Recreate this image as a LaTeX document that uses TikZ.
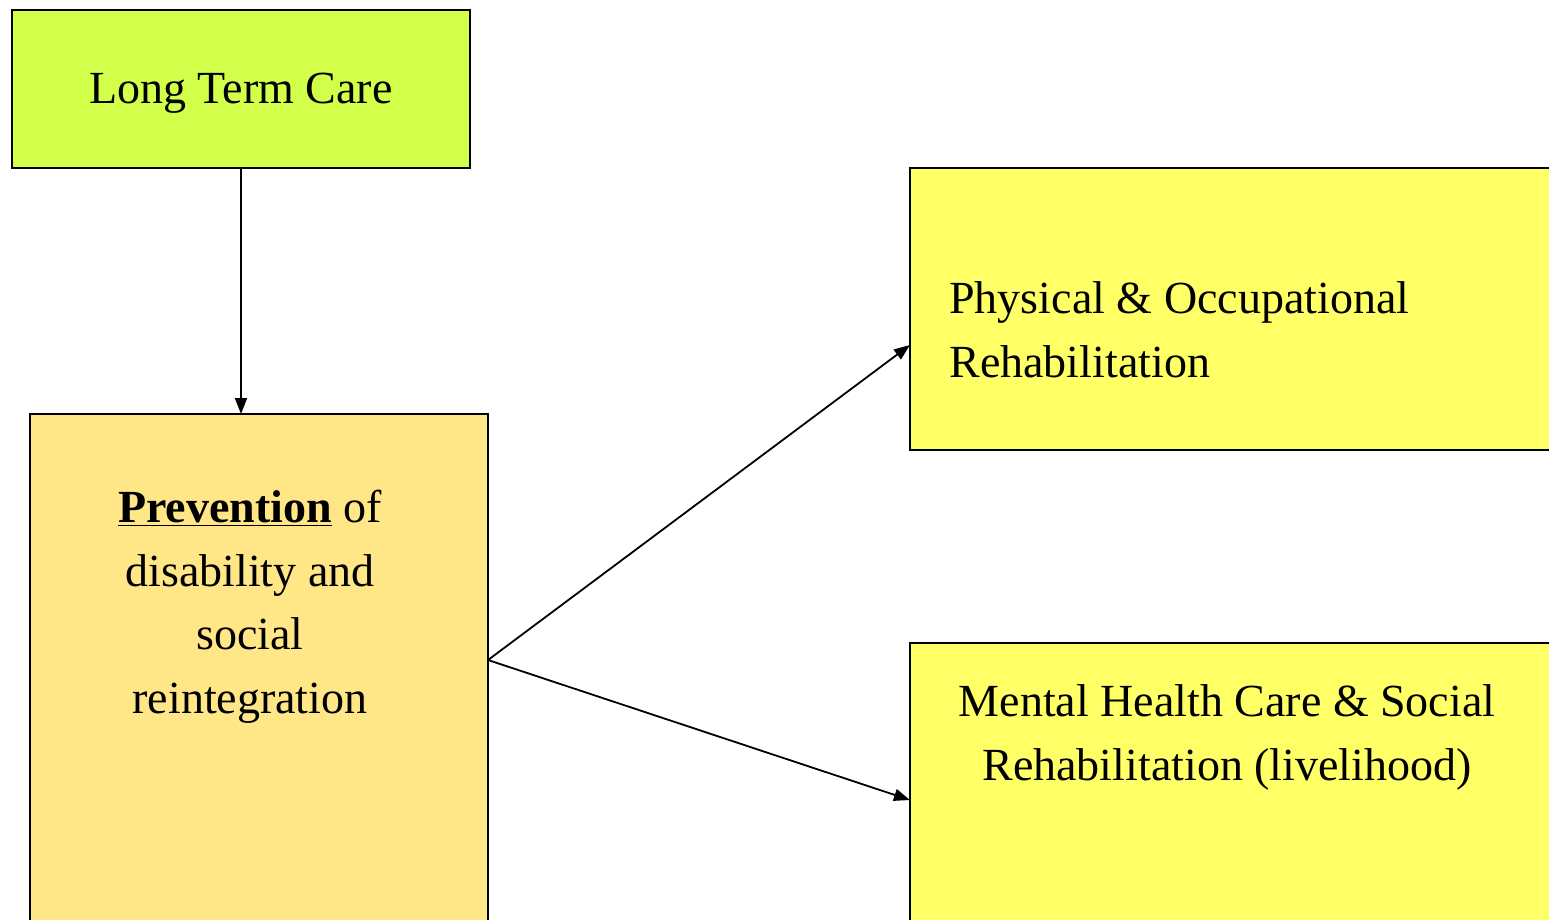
\documentclass[tikz,border=0pt]{standalone}
\usepackage{fontspec}
\setmainfont{Liberation Serif}
\usetikzlibrary{arrows.meta,calc}
\definecolor{ltcgreen}{RGB}{210,255,74}
\definecolor{prevyellow}{RGB}{255,230,134}
\definecolor{rehabyellow}{RGB}{255,255,102}
\begin{document}
\begin{tikzpicture}[x=0.5pt,y=-0.5pt,
  box/.style={draw=black,line width=1pt,rectangle,inner sep=0pt,outer sep=0pt,anchor=north west},
  label text/.style={font=\fontsize{23pt}{31.75pt}\selectfont,inner sep=0pt},
  arr/.style={line width=0.9pt,-{Triangle[length=8pt,width=6pt]}}]
\path[use as bounding box,clip] (0,0) rectangle (1549,920);
\fill[white] (0,0) rectangle (1549,920);
\node[box,fill=ltcgreen,minimum width=229pt,minimum height=79pt] (ltc) at (12,10) {};
\node[box,fill=prevyellow,minimum width=229pt,minimum height=300pt] (prev) at (30,414) {};
\node[box,fill=rehabyellow,minimum width=370pt,minimum height=141pt] (phys) at (910,168) {};
\node[box,fill=rehabyellow,minimum width=370pt,minimum height=180pt] (ment) at (910,643) {};
\node[label text,anchor=base] (ltctext) at (241,104) {Long Term Care};
\node[label text,anchor=base,align=center] (prevtext) at (250,713)
  {\underline{\textbf{Prevention}} of\\disability and\\social\\reintegration};
\node[label text,anchor=base west,align=left] (phystext) at (949,377)
  {Physical \& Occupational\\Rehabilitation};
\node[label text,anchor=base,align=center] (menttext) at (1227,780)
  {Mental Health Care \& Social\\Rehabilitation (livelihood)};
\coordinate (pout) at ($(prev.north east)+(0,246)$);
\coordinate (physin) at ($(phys.north west)+(0,177)$);
\coordinate (mentin) at ($(ment.north west)+(0,157)$);
\draw[arr] (ltc.south) -- (prev.north -| ltc.south);
\draw[arr] (pout) -- (physin);
\draw[arr] (pout) -- (mentin);
\end{tikzpicture}
\end{document}
